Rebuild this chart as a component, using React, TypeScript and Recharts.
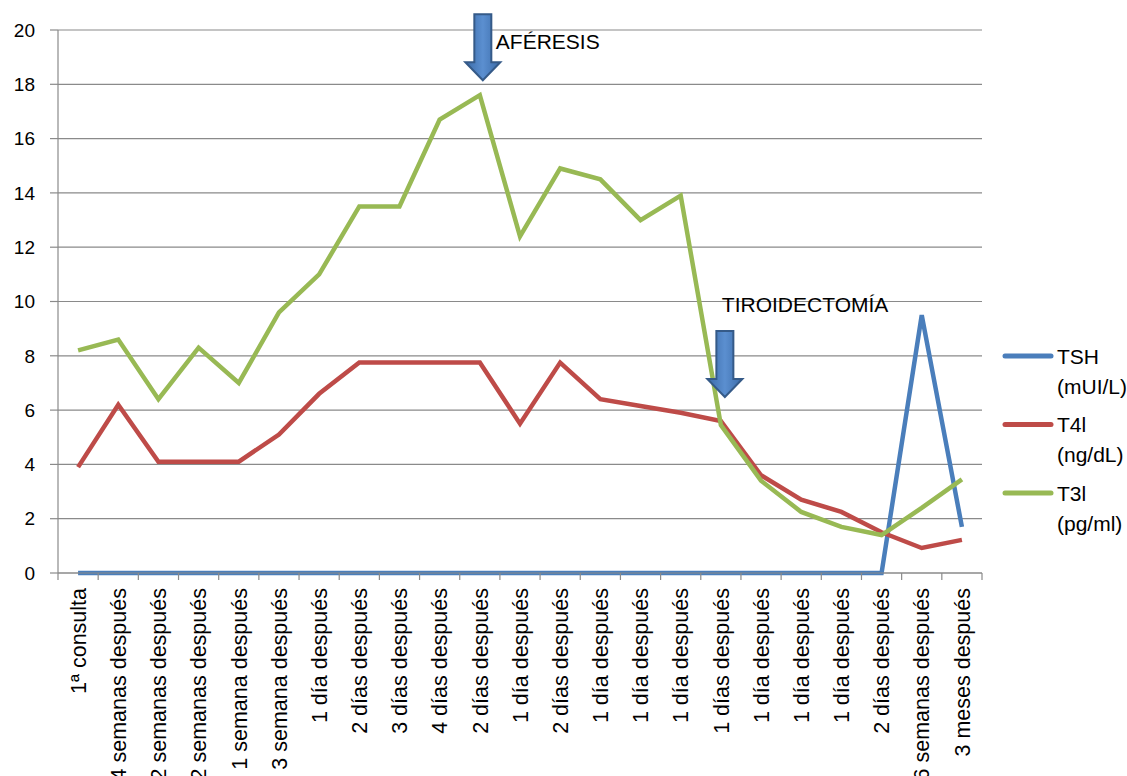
import React from 'react';
import { LineChart, Line, XAxis, YAxis, CartesianGrid, Legend, ReferenceDot } from 'recharts';

// Time points of the follow-up
const categories = [
  '1ª consulta',
  '4 semanas después',
  '2 semanas después',
  '2 semanas después',
  '1 semana después',
  '3 semana después',
  '1 día después',
  '2 días después',
  '3 días después',
  '4 días después',
  '2 días después',
  '1 día después',
  '2 días después',
  '1 día después',
  '1 día después',
  '1 día después',
  '1 días después',
  '1 día después',
  '1 día después',
  '1 día después',
  '2 días después',
  '6 semanas después',
  '3 meses después',
];

const tshValues = [0, 0, 0, 0, 0, 0, 0, 0, 0, 0, 0, 0, 0, 0, 0, 0, 0, 0, 0, 0, 0, 9.5, 1.7];
const t4lValues = [3.9, 6.2, 4.1, 4.1, 4.1, 5.1, 6.6, 7.75, 7.75, 7.75, 7.75, 5.5, 7.75, 6.4, 6.15, 5.9, 5.6, 3.6, 2.7, 2.25, 1.5, 0.92, 1.22];
const t3lValues = [8.2, 8.6, 6.4, 8.3, 7.0, 9.6, 11.0, 13.5, 13.5, 16.7, 17.6, 12.4, 14.9, 14.5, 13.0, 13.9, 5.45, 3.4, 2.25, 1.7, 1.4, 2.4, 3.45];

const seriesKeys = ['TSH', 'T4l', 'T3l'];
const seriesUnits = ['(mUI/L)', '(ng/dL)', '(pg/ml)'];
const seriesColors = ['#4A7EBB', '#BE4B48', '#98B954'];

const yTicks = [0, 2, 4, 6, 8, 10, 12, 14, 16, 18, 20];

// Clinical events marked on the chart (category index, value the arrow points at)
const eventLabels = ['AFÉRESIS', 'TIROIDECTOMÍA'];
const eventIndex = [10, 16];
const eventValue = [18.15, 6.48];

const data = categories.map((name, i) => ({
  idx: i,
  name,
  TSH: tshValues[i],
  T4l: t4lValues[i],
  T3l: t3lValues[i],
}));

// Layout
const W = 1127;
const H = 776;
const MARGIN = { top: 30, right: 145, bottom: 0, left: 0 };
const Y_AXIS_W = 58;
const X_AXIS_H = 203;
const BAND = (W - MARGIN.left - MARGIN.right - Y_AXIS_W) / categories.length;
const GRID = '#8A8A8A';
const FONT = '"Liberation Sans", Arial, Helvetica, sans-serif';

// Per-event placement of arrow and text relative to the point the arrow touches
const eventStyle = [
  { dx: 3, textDx: 13, textDy: -31 },
  { dx: 4, textDx: -3, textDy: -85 },
];

const XTick = (props: any) => {
  const { x, y, payload, index } = props;
  const label = categories[payload.value] ?? '';
  const left = x - BAND / 2;
  const right = x + BAND / 2;
  const ty = y + 15;
  return (
    <g>
      <line x1={left} y1={y} x2={left} y2={y + 7} stroke={GRID} strokeWidth={1.2} />
      {index === categories.length - 1 && (
        <line x1={right} y1={y} x2={right} y2={y + 7} stroke={GRID} strokeWidth={1.2} />
      )}
      <text
        x={x}
        y={ty}
        dy="0.36em"
        textAnchor="end"
        transform={`rotate(-90, ${x}, ${ty})`}
        fontSize={21.5}
        fill="#000"
      >
        {label}
      </text>
    </g>
  );
};

const DownArrow = (props: any) => {
  const { cx, cy, label, style, id } = props;
  const c = cx + style.dx;
  const len = 66;
  const head = 18;
  const shaft = 8.5;
  const wing = 17.5;
  const top = cy - len;
  const base = cy - head;
  const d = `M${c - shaft},${top} L${c + shaft},${top} L${c + shaft},${base} L${c + wing},${base} L${c},${cy} L${c - wing},${base} L${c - shaft},${base} Z`;
  return (
    <g>
      <defs>
        <linearGradient id={id} x1="0" y1="0" x2="1" y2="0">
          <stop offset="0%" stopColor="#3B6BA8" />
          <stop offset="50%" stopColor="#5B8FD0" />
          <stop offset="100%" stopColor="#3B6BA8" />
        </linearGradient>
      </defs>
      <path d={d} fill={`url(#${id})`} stroke="#355A88" strokeWidth={2} strokeLinejoin="miter" />
      <text x={c + style.textDx} y={cy + style.textDy} fontSize={21} fill="#000">
        {label}
      </text>
    </g>
  );
};

const LegendContent = (props: any) => {
  const { payload = [] } = props;
  return (
    <svg width={131} height={220} style={{ display: 'block' }}>
      {payload.map((entry: any) => {
        const k = seriesKeys.indexOf(entry.dataKey);
        const y0 = 26 + k * 68.5;
        return (
          <g key={entry.dataKey}>
            <line x1={9} y1={y0} x2={55} y2={y0} stroke={entry.color} strokeWidth={5} strokeLinecap="round" />
            <text x={61} y={y0} dy="0.36em" fontSize={21} fill="#000" fontFamily={FONT}>
              {entry.value}
            </text>
            <text x={61} y={y0 + 30} dy="0.36em" fontSize={21} fill="#000" fontFamily={FONT}>
              {seriesUnits[k]}
            </text>
          </g>
        );
      })}
    </svg>
  );
};

export default function App() {
  return (
    <div style={{ position: 'absolute', left: 0, top: 0, width: W, height: H, background: '#fff', fontFamily: FONT }}>
      <LineChart width={W} height={H} data={data} margin={MARGIN}>
        <CartesianGrid vertical={false} stroke={GRID} strokeWidth={1.2} />
        <XAxis
          dataKey="idx"
          type="category"
          scale="band"
          interval={0}
          height={X_AXIS_H}
          tickLine={false}
          tickSize={0}
          tickMargin={0}
          axisLine={{ stroke: GRID, strokeWidth: 1.2 }}
          tick={<XTick />}
        />
        <YAxis
          domain={[0, 20]}
          ticks={yTicks}
          width={Y_AXIS_W}
          tickSize={8}
          tickMargin={15}
          tickLine={{ stroke: GRID, strokeWidth: 1.2 }}
          axisLine={{ stroke: GRID, strokeWidth: 1.2 }}
          tick={{ fill: '#000', fontSize: 19 }}
          interval={0}
        />
        <Legend
          layout="vertical"
          align="center"
          verticalAlign="middle"
          wrapperStyle={{ left: 996, top: 330, width: 131, height: 220 }}
          content={<LegendContent />}
        />
        {seriesKeys.map((key, i) => (
          <Line
            key={key}
            type="linear"
            dataKey={key}
            name={key}
            stroke={seriesColors[i]}
            strokeWidth={4.5}
            dot={false}
            activeDot={false}
            isAnimationActive={false}
          />
        ))}
        {eventLabels.map((label, i) => (
          <ReferenceDot
            key={label}
            x={eventIndex[i]}
            y={eventValue[i]}
            ifOverflow="visible"
            shape={(p: any) => (
              <DownArrow cx={p.cx} cy={p.cy} label={label} style={eventStyle[i]} id={`arrowFill${i}`} />
            )}
          />
        ))}
      </LineChart>
    </div>
  );
}
